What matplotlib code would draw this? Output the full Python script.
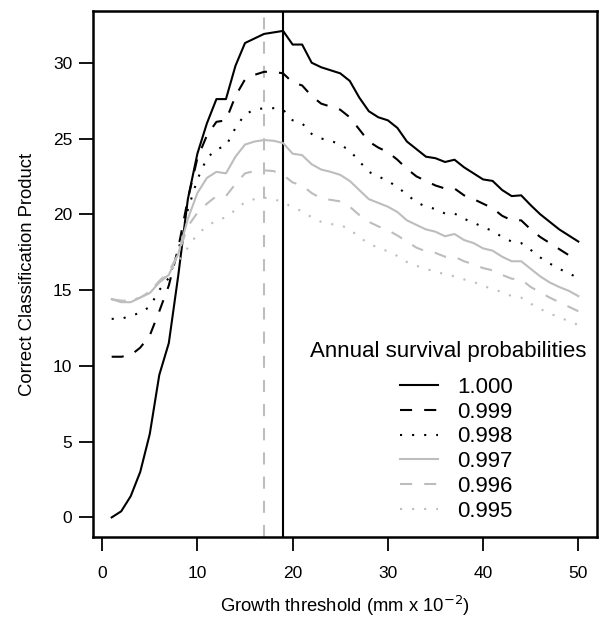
import matplotlib
matplotlib.use("Agg")
import matplotlib.pyplot as plt
import numpy as np

plt.rcParams['font.family'] = ['Liberation Sans', 'DejaVu Sans']

threshold = list(range(1, 51))

s1000 = [0.0, 0.4, 1.4, 3.0, 5.5, 9.4, 11.5, 16.0, 21.0, 24.0,
         26.0, 27.6, 27.6, 29.8, 31.3, 31.6, 31.9, 32.0, 32.1, 31.2,
         31.2, 30.0, 29.7, 29.5, 29.3, 28.8, 27.7, 26.8, 26.4, 26.2,
         25.7, 24.8, 24.3, 23.8, 23.7, 23.45, 23.6, 23.1, 22.7, 22.3,
         22.2, 21.6, 21.2, 21.25, 20.6, 20.0, 19.5, 19.0, 18.6, 18.2]
s0999 = [10.6, 10.6, 10.7, 11.2, 12.0, 13.6, 15.3, 17.8, 21.0, 23.7,
         25.2, 26.1, 26.2, 27.8, 28.9, 29.2, 29.4, 29.4, 29.3, 28.7,
         28.5, 27.8, 27.3, 27.1, 26.9, 26.4, 25.6, 24.8, 24.4, 24.1,
         23.6, 23.0, 22.5, 22.2, 21.9, 21.7, 21.7, 21.25, 21.0, 20.7,
         20.4, 19.9, 19.6, 19.6, 19.0, 18.5, 18.1, 17.7, 17.3, 17.0]
s0998 = [13.1, 13.1, 13.3, 13.5, 13.9, 15.0, 15.8, 17.6, 20.3, 22.3,
         23.7, 24.3, 24.5, 25.7, 26.6, 26.9, 27.0, 27.0, 26.9, 26.2,
         26.0, 25.3, 25.0, 24.85, 24.6, 24.2, 23.5, 22.8, 22.5, 22.2,
         21.8, 21.3, 20.8, 20.5, 20.35, 20.05, 20.05, 19.7, 19.45, 19.15,
         18.9, 18.5, 18.2, 18.1, 17.65, 17.15, 16.75, 16.4, 16.1, 15.8]
s0997 = [14.4, 14.2, 14.2, 14.5, 14.8, 15.5, 16.0, 17.4, 19.7, 21.4,
         22.4, 22.8, 22.7, 23.8, 24.6, 24.8, 24.9, 24.85, 24.7, 24.0,
         23.9, 23.3, 22.95, 22.8, 22.6, 22.2, 21.6, 21.0, 20.75, 20.5,
         20.15, 19.6, 19.3, 19.0, 18.85, 18.55, 18.7, 18.3, 18.1, 17.75,
         17.6, 17.2, 16.9, 16.9, 16.4, 15.9, 15.5, 15.2, 14.95, 14.6]
s0996 = [14.4, 14.3, 14.3, 14.5, 14.9, 15.6, 16.2, 17.4, 19.2, 20.1,
         20.7, 21.2, 21.2, 22.0, 22.7, 22.85, 22.9, 22.85, 22.6, 22.1,
         21.9, 21.4, 21.05, 20.95, 20.85, 20.5, 19.95, 19.5, 19.2, 18.95,
         18.6, 18.2, 17.8, 17.55, 17.45, 17.2, 17.2, 16.9, 16.7, 16.45,
         16.3, 16.0, 15.75, 15.7, 15.2, 14.85, 14.5, 14.2, 13.9, 13.6]
s0995 = [14.4, 14.3, 14.3, 14.5, 14.9, 15.5, 16.1, 16.9, 17.8, 18.7,
         19.2, 19.6, 19.8, 20.3, 20.8, 21.0, 21.1, 21.0, 20.8, 20.45,
         20.2, 19.8, 19.5, 19.35, 19.3, 19.0, 18.5, 18.05, 17.8, 17.55,
         17.25, 16.85, 16.6, 16.4, 16.2, 16.05, 15.9, 15.7, 15.55, 15.25,
         15.1, 14.85, 14.6, 14.5, 14.1, 13.75, 13.45, 13.2, 12.95, 12.7]

series_labels = ["1.000", "0.999", "0.998", "0.997", "0.996", "0.995"]
legend_title = "Annual survival probabilities"
vline_black = 19
vline_gray = 17

W, H = 600, 622
fig = plt.figure(figsize=(W / 100, H / 100), dpi=100)
ax = fig.add_axes([0.155, 0.137, 0.84, 0.845])

black = "#000000"
gray = "#bdbdbd"
lw = 1.5
dash = (0, (5.8, 5.8))
dot = (0, (1.0, 4.8))

series = [s1000, s0999, s0998, s0997, s0996, s0995]
colors = [black, black, black, gray, gray, gray]
styles = ['-', dash, dot, '-', dash, dot]

ax.axvline(vline_gray, color=gray, lw=lw, linestyle=dash)
ax.axvline(vline_black, color=black, lw=lw)

handles = []
for s, c, st, lab in zip(series, colors, styles, series_labels):
    h, = ax.plot(threshold, s, color=c, lw=lw, linestyle=st, label=lab)
    handles.append(h)

ax.set_xlim(-0.96, 51.96)
ax.set_ylim(-1.28, 33.4)
ax.set_xticks([0, 10, 20, 30, 40, 50])
ax.set_yticks([0, 5, 10, 15, 20, 25, 30])
ax.tick_params(direction='out', length=10, width=1.3, labelsize=12.5)
ax.tick_params(axis='x', pad=11)
ax.tick_params(axis='y', pad=5)
for sp in ax.spines.values():
    sp.set_linewidth(1.8)

ax.set_xlabel("Growth threshold (mm x 10$^{-2}$)", fontsize=13.3, labelpad=9)
ax.set_ylabel("Correct Classification Product", fontsize=13.3, labelpad=12)

fig.text(448 / W, 1 - 351 / H, legend_title, ha='center', va='center',
         fontsize=16)
leg = ax.legend(handles=handles, loc='upper left',
                bbox_to_anchor=(400 / W, 1 - 377 / H),
                bbox_transform=fig.transFigure, frameon=False,
                fontsize=16, handlelength=1.71,
                labelspacing=0.167, handletextpad=0.86, borderpad=0.0,
                borderaxespad=0.0)

fig.savefig("out.png", dpi=100)
